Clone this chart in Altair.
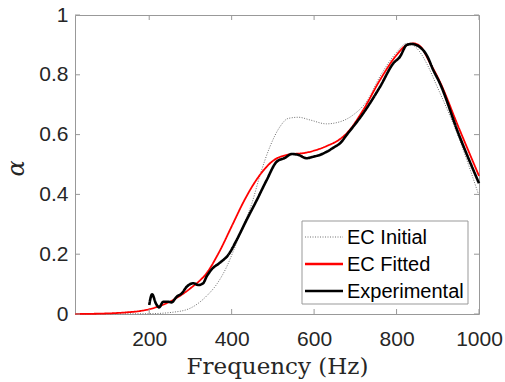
import altair as alt
import pandas as pd

# EC Initial (dotted grey)
init_f = [20, 200, 258, 299, 339, 364, 388, 404, 428, 449, 469, 493, 517, 537, 562, 590, 630, 663, 695, 728, 760, 800, 825, 849, 873, 897, 950, 1000]
init_a = [0.0, 0.001, 0.006, 0.019, 0.060, 0.100, 0.158, 0.210, 0.295, 0.370, 0.465, 0.560, 0.626, 0.654, 0.658, 0.649, 0.636, 0.643, 0.666, 0.712, 0.795, 0.875, 0.905, 0.889, 0.838, 0.765, 0.593, 0.395]

# EC Fitted (red)
fit_f = [20, 100, 150, 178, 200, 258, 300, 340, 370, 400, 430, 455, 480, 500, 534, 582, 631, 663, 679, 719, 760, 800, 825, 841, 857, 881, 905, 950, 1000]
fit_a = [0.0, 0.002, 0.006, 0.010, 0.016, 0.047, 0.086, 0.138, 0.208, 0.293, 0.378, 0.438, 0.485, 0.512, 0.532, 0.540, 0.562, 0.585, 0.604, 0.682, 0.783, 0.866, 0.900, 0.905, 0.896, 0.840, 0.777, 0.626, 0.462]

# Experimental (black)
exp_f = [200, 207, 216, 224, 234, 246, 254, 267, 279, 291, 307, 319, 331, 339, 352, 372, 392, 412, 436, 461, 485, 509, 529, 546, 562, 582, 598, 614, 631, 651, 663, 679, 719, 760, 792, 808, 825, 837, 857, 873, 889, 905, 950, 1000]
exp_a = [0.030, 0.066, 0.036, 0.022, 0.041, 0.041, 0.039, 0.058, 0.069, 0.091, 0.103, 0.097, 0.103, 0.125, 0.150, 0.172, 0.198, 0.247, 0.314, 0.381, 0.448, 0.509, 0.522, 0.535, 0.532, 0.521, 0.526, 0.532, 0.543, 0.560, 0.571, 0.599, 0.671, 0.760, 0.838, 0.860, 0.900, 0.903, 0.892, 0.866, 0.816, 0.772, 0.604, 0.437]

series_names = ["EC Initial", "EC Fitted", "Experimental"]
series_colors = ["#707070", "#ff0000", "#000000"]
series_dash = [[1, 1.5], [1, 0], [1, 0]]
series_width = [1, 2.6, 2.6]
x_ticks = [200, 400, 600, 800, 1000]
y_ticks = [0, 0.2, 0.4, 0.6, 0.8, 1]

rows = []
for name, fs, as_ in zip(series_names, [init_f, fit_f, exp_f], [init_a, fit_a, exp_a]):
    for i, (f, a) in enumerate(zip(fs, as_)):
        rows.append({"f": f, "a": a, "series": name, "order": i})
df = pd.DataFrame(rows)

W, H = 404, 299
xscale = alt.Scale(domain=[20, 1000], nice=False, zero=False)
yscale = alt.Scale(domain=[0, 1], nice=False)

xaxis = alt.Axis(values=x_ticks, format="d", title="Frequency (Hz)",
                 titleFont="DejaVu Serif", titleFontSize=23,
                 titleFontWeight="normal", titleColor="#262626",
                 titleBaseline="alphabetic", titleY=59, titleX=W / 2,
                 labelFlush=False, labelPadding=14, domain=False, ticks=False,
                 grid=False, labelFont="Liberation Sans", labelFontSize=21,
                 labelColor="#262626")
yaxis = alt.Axis(values=y_ticks, format="~g", title="α",
                 titleFont="DejaVu Serif", titleFontSize=24,
                 titleFontStyle="italic", titleFontWeight="normal",
                 titleColor="#262626", titleAngle=270,
                 titleBaseline="alphabetic", titleX=-52, titleY=153,
                 titleAlign="center", labelPadding=7, domain=False, ticks=False,
                 grid=False, labelFont="Liberation Sans", labelFontSize=21,
                 labelColor="#262626")

lines = alt.Chart(df).mark_line(interpolate="monotone").encode(
    x=alt.X("f:Q", scale=xscale, axis=xaxis),
    y=alt.Y("a:Q", scale=yscale, axis=yaxis),
    color=alt.Color("series:N", scale=alt.Scale(domain=series_names,
                    range=series_colors), legend=None),
    strokeDash=alt.StrokeDash("series:N", scale=alt.Scale(domain=series_names,
                    range=series_dash), legend=None),
    strokeWidth=alt.StrokeWidth("series:N", scale=alt.Scale(domain=series_names,
                    range=series_width), legend=None),
    order="order:Q",
    detail="series:N",
)

tx = pd.DataFrame({"f": x_ticks})
ty = pd.DataFrame({"a": y_ticks})
tick_col = "#999999"
xb = alt.Chart(tx).mark_rule(color=tick_col, strokeWidth=1).encode(
    x=alt.X("f:Q", scale=xscale, axis=xaxis), y=alt.value(H), y2=alt.value(H - 5))
xt = alt.Chart(tx).mark_rule(color=tick_col, strokeWidth=1).encode(
    x=alt.X("f:Q", scale=xscale, axis=xaxis), y=alt.value(0), y2=alt.value(5))
yl = alt.Chart(ty).mark_rule(color=tick_col, strokeWidth=1).encode(
    y=alt.Y("a:Q", scale=yscale, axis=yaxis), x=alt.value(0), x2=alt.value(5))
yr = alt.Chart(ty).mark_rule(color=tick_col, strokeWidth=1).encode(
    y=alt.Y("a:Q", scale=yscale, axis=yaxis), x=alt.value(W), x2=alt.value(W - 5))

# Manual legend (MATLAB style box)
LX0, LX1, LY0, LY1 = 227, 393, 206, 289
leg_box = alt.Chart(pd.DataFrame({"k": [0]})).mark_rect(
    fill="white", stroke="#999999", strokeWidth=1).encode(
    x=alt.value(LX0), x2=alt.value(LX1), y=alt.value(LY0), y2=alt.value(LY1))
leg_layers = [leg_box]
row_y = [222, 249, 276]
for name, col, dash, sw, ry in zip(series_names, series_colors, series_dash, series_width, row_y):
    d = pd.DataFrame({"s": [name]})
    leg_layers.append(alt.Chart(d).mark_rule(color=col, strokeDash=dash, strokeWidth=sw).encode(
        x=alt.value(LX0 + 3), x2=alt.value(LX0 + 41), y=alt.value(ry)))
    leg_layers.append(alt.Chart(d).mark_text(
        align="left", baseline="middle", font="Liberation Sans", fontSize=20,
        color="#000000").encode(text="s:N", x=alt.value(LX0 + 45), y=alt.value(ry + 1)))

chart = alt.layer(lines, xb, xt, yl, yr, *leg_layers).properties(
    width=W, height=H, autosize="none",
    padding={"left": 75, "top": 15, "right": 26, "bottom": 68},
    background="white",
).configure_view(stroke="#999999", strokeWidth=1)

chart.save("out.html", embed_options={"renderer": "svg", "actions": False})
